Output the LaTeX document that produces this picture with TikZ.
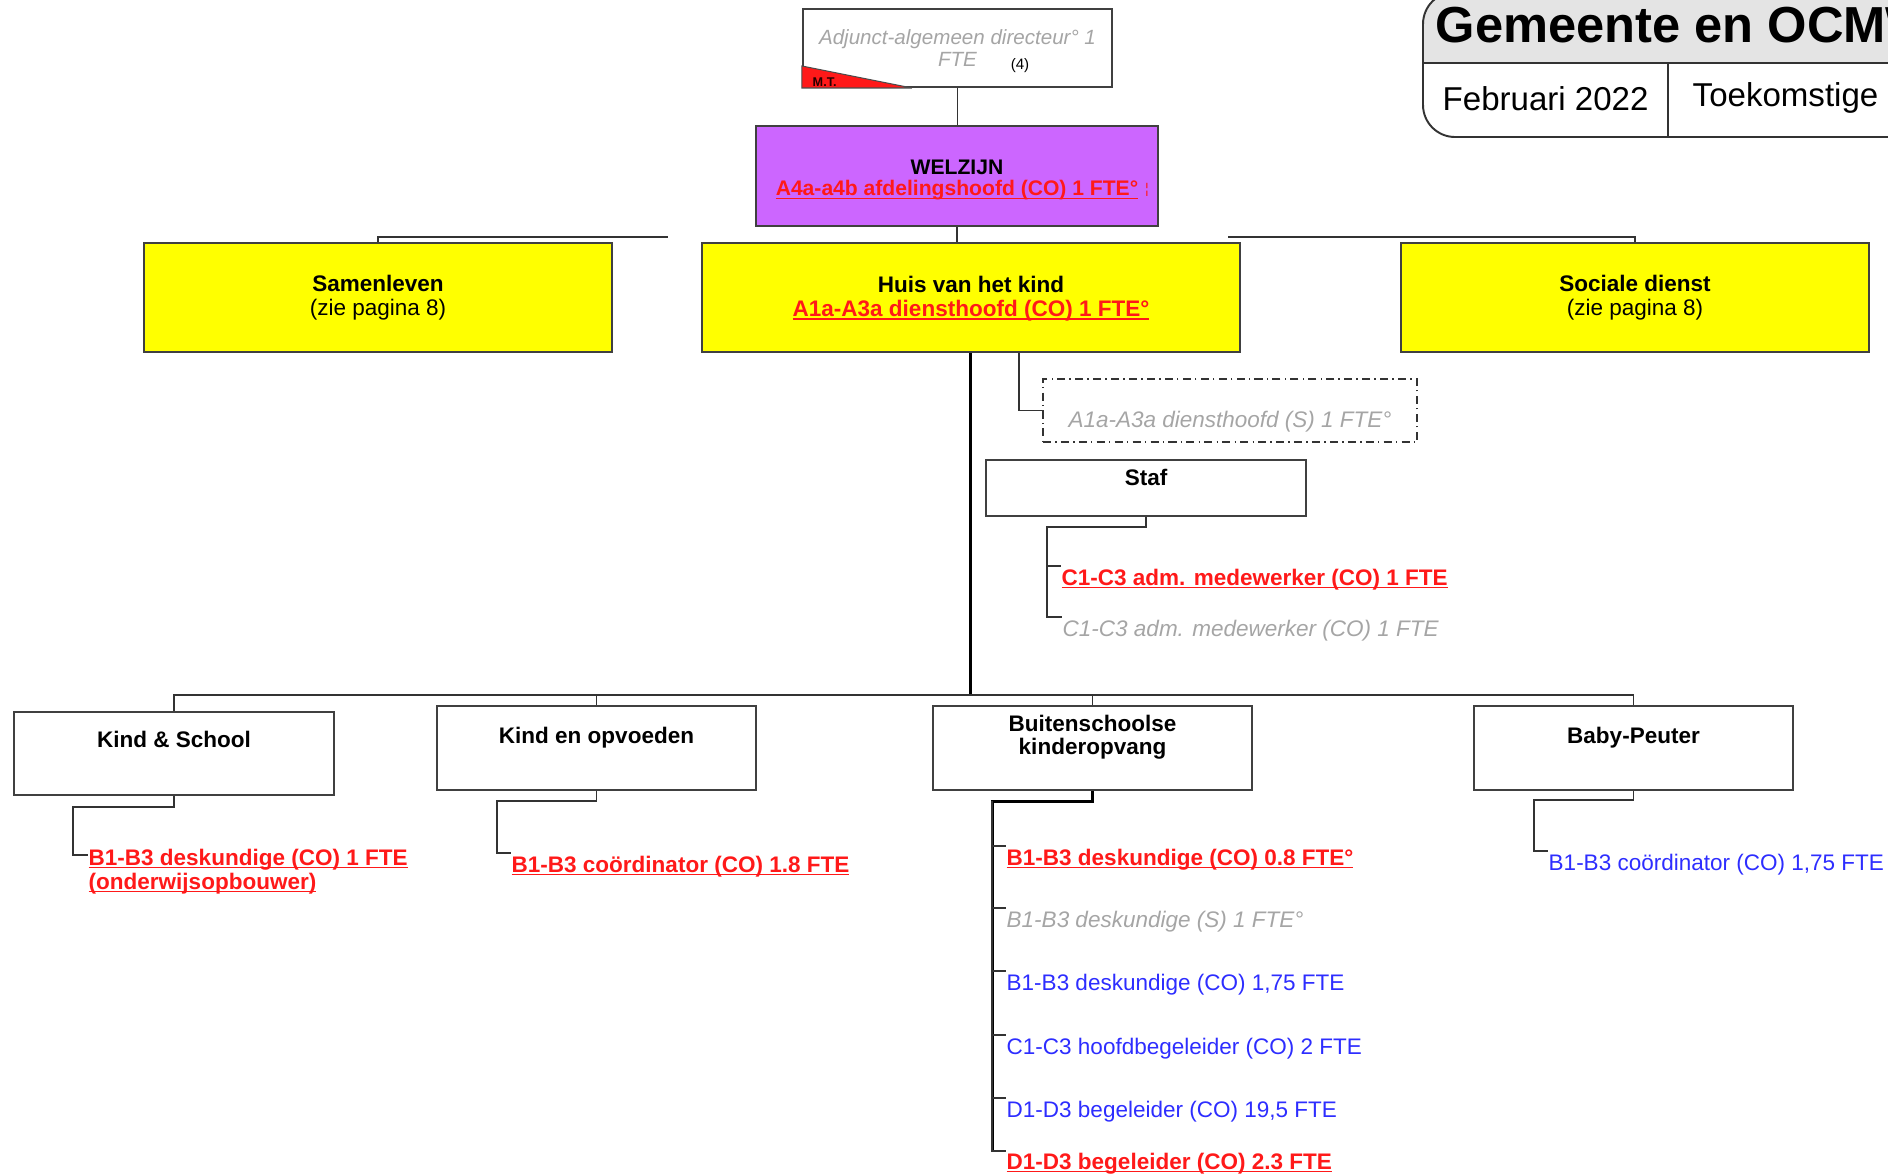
\documentclass[tikz,border=0pt]{standalone}
\usepackage{fontspec}
\setmainfont{Liberation Sans}
\usepackage{tikz}
\usetikzlibrary{positioning}
\usepackage{xcolor}
\definecolor{welzijnpurple}{RGB}{204,102,255}
\definecolor{dienstyellow}{RGB}{255,255,0}
\definecolor{vacred}{RGB}{255,25,25}
\definecolor{bezetblue}{RGB}{45,45,255}
\definecolor{oudgray}{RGB}{165,165,165}
\definecolor{kopgray}{RGB}{228,228,228}
\newcommand{\orgsize}{\fontsize{6.4}{6.8}\selectfont}
% underline that sits just below the baseline
\newcommand{\vacul}[1]{\leavevmode\setbox0\hbox{#1}\rlap{\rule[-0.95pt]{\wd0}{0.5pt}}\box0}

\begin{document}
\begin{tikzpicture}[
    x=0.01cm, y=-0.01cm,
    orgbox/.style={draw=black!75, line width=0.55pt, inner sep=0pt, align=center, font=\orgsize},
    dienstbox/.style={orgbox, fill=dienstyellow, minimum width=4.68cm, minimum height=1.09cm},
    unitbox/.style={orgbox, fill=white, minimum width=3.19cm, minimum height=0.84cm},
    unittext/.style={font=\orgsize\bfseries, align=center, inner sep=0pt},
    conn/.style={draw=black!80, line width=0.5pt},
    mainconn/.style={draw=black, line width=0.85pt},
    vactext/.style={font=\orgsize\bfseries, text=vacred, anchor=base west, inner sep=0pt},
    bluetext/.style={font=\orgsize, text=bezetblue, anchor=base west, inner sep=0pt},
    graytext/.style={font=\orgsize\itshape, text=oudgray, anchor=base west, inner sep=0pt},
  ]
    \useasboundingbox (0,0) rectangle (1888,1175);
    \clip (0,0) rectangle (1888,1175);

    % Title block
    \begin{scope}
      \clip[rounded corners=0.32cm] (1423,-8) rectangle (1990,137);
      \fill[kopgray] (1400,-20) rectangle (1990,63);
    \end{scope}
    \draw[line width=0.55pt, black!80, rounded corners=0.32cm] (1423,-8) rectangle (1990,137);
    \draw[line width=0.55pt, black!80] (1423,63) -- (1990,63);
    \draw[line width=0.55pt, black!80] (1668,63) -- (1668,137);
    \node[anchor=base west, inner sep=0pt, font=\fontsize{14.4}{16}\selectfont\bfseries] (titel) at (1435,42)
      {Gemeente en OCMW};
    \node[anchor=base west, inner sep=0pt, font=\fontsize{9.4}{11}\selectfont] (datum) at (1442,110) {Februari 2022};
    \node[anchor=base west, inner sep=0pt, font=\fontsize{9.4}{11}\selectfont] (soort) at (1692,106) {Toekomstige};

    % Adjunct-algemeen directeur
    \node[orgbox, fill=white, minimum width=3.09cm, minimum height=0.78cm, text=oudgray,
          font=\fontsize{5.85}{6.1}\selectfont\itshape] (adj) at (957.5,48) {Adjunct-algemeen directeur° 1\\FTE};
    \fill[vacred, draw=black!70, line width=0.3pt] (adj.south west) -- ++(0,-22) -- ++(110,22) -- cycle;
    \node[anchor=base west, inner sep=0pt, text=black!85!red, font=\fontsize{3.6}{4}\selectfont\bfseries] (mt) at (812,86) {M.T.};
    \node[inner sep=0pt, font=\fontsize{4.3}{4.3}\selectfont] (nr) at (1020,66) {(4)};

    % Welzijn
    \node[orgbox, fill=welzijnpurple, minimum width=4.02cm, minimum height=1.00cm] (wel) at (957,176) {};
    \node[align=center, inner sep=0pt, font=\fontsize{6}{6.2}\selectfont] (weltxt) at (957,180)
      {\textbf{WELZIJN}\\\textcolor{vacred}{\textbf{\vacul{A4a-a4b afdelingshoofd (CO) 1 FTE°}}}};
    \node[inner sep=0pt, text=vacred, font=\fontsize{4}{4}\selectfont] (merk) at (1147,190) {¦};

    % Diensten
    \node[dienstbox] (saml) at (378,297.5) {\textbf{Samenleven}\\(zie pagina 8)};
    \node[dienstbox, minimum width=5.38cm] (huis) at (971,297.5) {};
    \node[align=center, inner sep=0pt, font=\orgsize] (huistxt) at (971,299)
      {\textbf{Huis van het kind}\\\textcolor{vacred}{\textbf{\vacul{A1a-A3a diensthoofd (CO) 1 FTE°}}}};
    \node[dienstbox] (soc) at (1635,297.5) {\textbf{Sociale dienst}\\(zie pagina 8)};

    \coordinate (balkL) at (668,237);
    \coordinate (balkR) at (1228,237);
    \coordinate (rail) at (970,695);

    \draw[conn] (adj.south) -- (adj.south |- wel.north);
    \draw[conn] (wel.south) -- (wel.south |- huis.north);
    \draw[conn] (saml.north) |- (balkL);
    \draw[conn] (soc.north) |- (balkR);

    % Diensthoofd (S) and Staf
    \node[orgbox, draw=black!80, dash pattern=on 2.3pt off 1.2pt on 0.4pt off 1.2pt,
          minimum width=3.74cm, minimum height=0.63cm] (sgeh) at (1230,410.5) {};
    \node[graytext, anchor=center] (sgehtxt) at (1230,422) {A1a-A3a diensthoofd (S) 1 FTE°};
    \draw[conn] ([xshift=0.48cm]huis.south) |- (sgeh.west);

    \node[orgbox, fill=white, minimum width=3.20cm, minimum height=0.56cm] (staf) at (1146,488) {};
    \node[unittext] (staftxt) at (1146,477) {Staf};

    \node[vactext] (adm1) at (1061,585) {\vacul{C1-C3 adm. medewerker (CO) 1 FTE}};
    \node[graytext] (adm2) at (1062,636) {C1-C3 adm. medewerker (CO) 1 FTE};
    \coordinate (stafrail) at (1047,527);
    \draw[conn] (staf.south) |- (stafrail) |- ([yshift=0.19cm]adm2.base west);
    \draw[conn] (stafrail) |- ([yshift=0.19cm]adm1.base west);

    % Units
    \node[unitbox, minimum height=0.83cm] (kis) at (174,753.5) {};
    \node[unittext] (kistxt) at (174,739) {Kind \& School};
    \node[unitbox] (kop) at (596.5,748) {};
    \node[unittext] (koptxt) at (596.5,738) {Kind en opvoeden};
    \node[unitbox] (bko) at (1092.5,748) {};
    \node[unittext, font=\fontsize{6.4}{6.5}\selectfont\bfseries] (bkotxt) at (1092.5,737) {Buitenschoolse\\kinderopvang};
    \node[unitbox] (bp) at (1633.5,748) {};
    \node[unittext] (bptxt) at (1633.5,738) {Baby-Peuter};

    \draw[mainconn] (huis.south -| rail) -- (rail);
    \draw[conn] (kis.north) |- (rail) -| (bp.north);
    \draw[conn] (kop.north) -- (kop.north |- rail);
    \draw[conn] (bko.north) -- (bko.north |- rail);

    % Kind & School
    \node[vactext] (kis1) at (88,865) {\vacul{B1-B3 deskundige (CO) 1 FTE}};
    \node[vactext] (kis2) at (88,889) {\vacul{(onderwijsopbouwer)}};
    \coordinate (kisrail) at (73,807);
    \draw[conn] (kis.south) |- (kisrail) |- ([yshift=0.1cm]kis1.base west);

    % Kind en opvoeden
    \node[vactext] (kop1) at (511,872) {\vacul{B1-B3 coördinator (CO) 1.8 FTE}};
    \coordinate (koprail) at (497,801);
    \draw[conn] (kop.south) |- (koprail) |- ([yshift=0.19cm]kop1.base west);

    % Buitenschoolse kinderopvang
    \node[vactext] (bko1) at (1006,865) {\vacul{B1-B3 deskundige (CO) 0.8 FTE°}};
    \node[graytext] (bko2) at (1006,927) {B1-B3 deskundige (S) 1 FTE°};
    \node[bluetext] (bko3) at (1006,990) {B1-B3 deskundige (CO) 1,75 FTE};
    \node[bluetext] (bko4) at (1006,1054) {C1-C3 hoofdbegeleider (CO) 2 FTE};
    \node[bluetext] (bko5) at (1006,1117) {D1-D3 begeleider (CO) 19,5 FTE};
    \node[vactext] (bko6) at (1006,1169) {\vacul{D1-D3 begeleider (CO) 2.3 FTE}};
    \coordinate (bkorail) at (992,801);
    \draw[mainconn] (bko.south) |- (bkorail) -- ([yshift=0.18cm]bko6.base west -| bkorail);
    \draw[conn] (bkorail) |- ([yshift=0.19cm]bko1.base west);
    \draw[conn] (bkorail) |- ([yshift=0.19cm]bko2.base west);
    \draw[conn] (bkorail) |- ([yshift=0.19cm]bko3.base west);
    \draw[conn] (bkorail) |- ([yshift=0.19cm]bko4.base west);
    \draw[conn] (bkorail) |- ([yshift=0.19cm]bko5.base west);
    \draw[conn] (bkorail) |- ([yshift=0.18cm]bko6.base west);

    % Baby-Peuter
    \node[bluetext] (bp1) at (1548,870) {B1-B3 coördinator (CO) 1,75 FTE};
    \coordinate (bprail) at (1534,800);
    \draw[conn] (bp.south) |- (bprail) |- ([yshift=0.19cm]bp1.base west);
\end{tikzpicture}
\end{document}
